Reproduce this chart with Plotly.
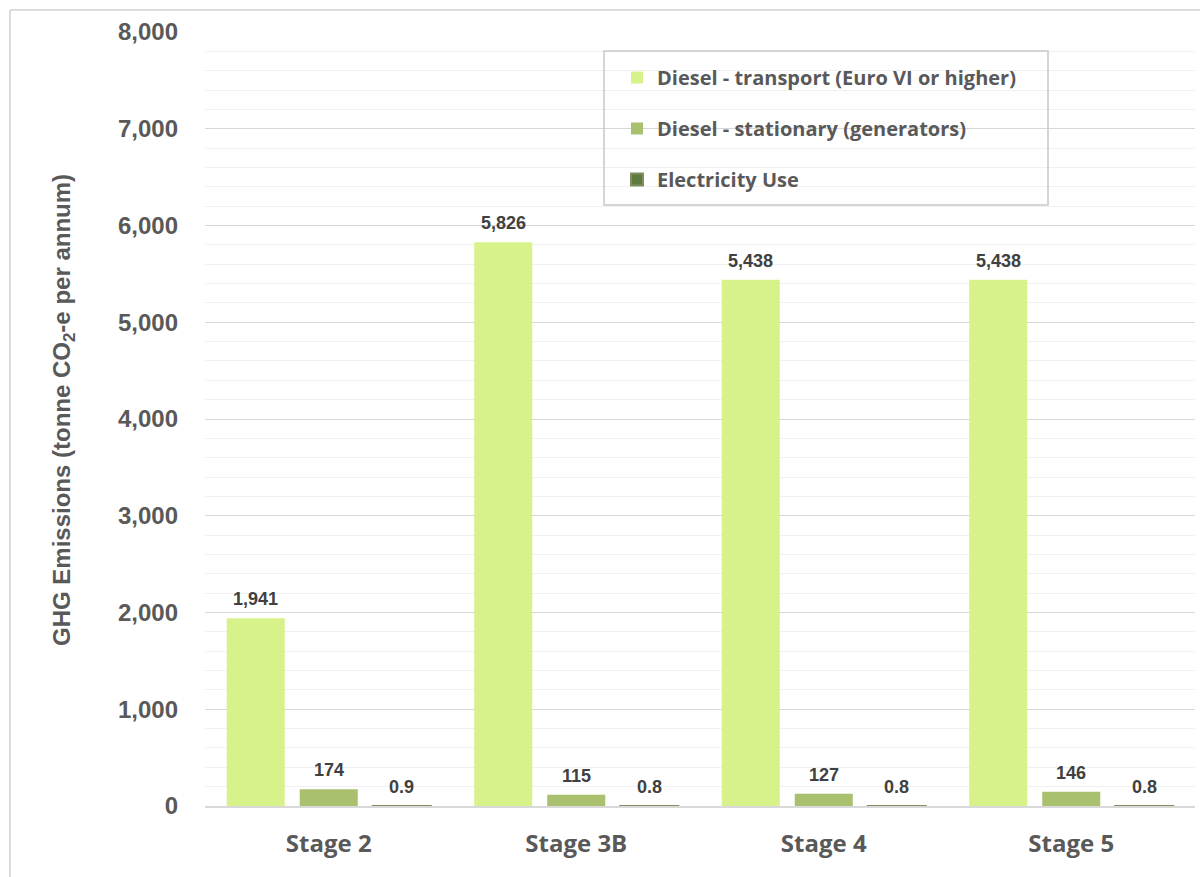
import plotly.graph_objects as go

# Stage categories and emission sources (tonne CO2-e per annum)
stages = ["Stage 2", "Stage 3B", "Stage 4", "Stage 5"]
diesel_transport = [1941, 5826, 5438, 5438]
diesel_stationary = [174, 115, 127, 146]
electricity_use = [0.9, 0.8, 0.8, 0.8]

series_names = [
    "Diesel - transport (Euro VI or higher)",
    "Diesel - stationary (generators)",
    "Electricity Use",
]
y_ticks = [0, 1000, 2000, 3000, 4000, 5000, 6000, 7000, 8000]

GREY = "#595959"
LABEL = "#404040"

W, H = 1200, 877
ML, MR, MT, MB = 205, 5, 32, 71
PW, PH = W - ML - MR, H - MT - MB
BARGAP, GROUPGAP = 0.115, 0.205


def px_x(p):
    return (p - ML) / PW


def px_y(p):
    return (H - MB - p) / PH


series = [
    (diesel_transport, series_names[0], "#d8f28b", "{:,.0f}"),
    (diesel_stationary, series_names[1], "#a9c16e", "{:,.0f}"),
    (electricity_use, series_names[2], "#5f7a3e", "{:.1f}"),
]

fig = go.Figure()
for k, (vals, name, color, fmt) in enumerate(series):
    line = dict(width=2, color="#7f8f60") if k == 2 else dict(width=0)
    fig.add_bar(
        x=stages, y=vals, name=name,
        marker=dict(color=color, line=line),
        legendgroup=name, hoverinfo="x+y+name",
    )

# value labels above each bar, offset to the bar's slot within its group
slot_px = PW / len(stages) * (1 - BARGAP) / len(series)
annotations = []
for k, (vals, name, color, fmt) in enumerate(series):
    for stage, v in zip(stages, vals):
        annotations.append(dict(
            x=stage, y=v, xref="x", yref="y", text=fmt.format(v),
            showarrow=False, xanchor="center", yanchor="bottom",
            xshift=(k - 1) * slot_px, yshift=7,
            font=dict(family="Liberation Sans", size=18, color=LABEL, weight="bold"),
        ))

annotations.append(dict(
    text="GHG Emissions (tonne CO<sub>2</sub>-e per annum)",
    xref="paper", yref="paper", x=px_x(63), y=px_y(410),
    xanchor="center", yanchor="middle", textangle=-90, showarrow=False,
    font=dict(family="Liberation Sans", size=24, color=GREY, weight="bold"),
))

fig.update_layout(
    width=W, height=H,
    margin=dict(l=ML, r=MR, t=MT, b=MB, pad=0),
    paper_bgcolor="white", plot_bgcolor="white",
    barmode="group", bargap=BARGAP, bargroupgap=GROUPGAP,
    showlegend=True,
    legend=dict(
        x=px_x(617), y=px_y(58), xanchor="left", yanchor="top",
        bgcolor="rgba(0,0,0,0)", borderwidth=0,
        font=dict(family="Open Sans", size=20, color=GREY, weight="bold"),
        tracegroupgap=22, traceorder="grouped",
    ),
    xaxis=dict(
        showline=True, linecolor="#d9d9d9", linewidth=2,
        ticks="", showgrid=False,
        tickfont=dict(family="Open Sans", size=24, color=GREY, weight="bold"),
        ticklabelstandoff=15,
    ),
    yaxis=dict(
        range=[0, 8000], tickvals=y_ticks, tickformat=",",
        showgrid=True, gridcolor="#d6d6d6", gridwidth=1,
        minor=dict(dtick=200, showgrid=True, gridcolor="#f0f0f0", gridwidth=1),
        zeroline=False, showline=False, ticks="",
        tickfont=dict(family="Liberation Sans", size=24, color=GREY, weight="bold"),
        ticklabelstandoff=26,
    ),
    annotations=annotations,
    shapes=[
        # legend frame
        dict(type="rect", xref="paper", yref="paper",
             x0=px_x(604), x1=px_x(1048), y0=px_y(205), y1=px_y(51),
             line=dict(color="#c8c8c8", width=1.5), fillcolor="rgba(0,0,0,0)"),
        # chart frame (top and left edges)
        dict(type="line", xref="paper", yref="paper",
             x0=px_x(10), x1=px_x(1200), y0=px_y(10), y1=px_y(10),
             line=dict(color="#dcdcdc", width=2)),
        dict(type="line", xref="paper", yref="paper",
             x0=px_x(10), x1=px_x(10), y0=px_y(10), y1=px_y(877),
             line=dict(color="#dcdcdc", width=2)),
    ],
)

fig.write_html("out.html")
